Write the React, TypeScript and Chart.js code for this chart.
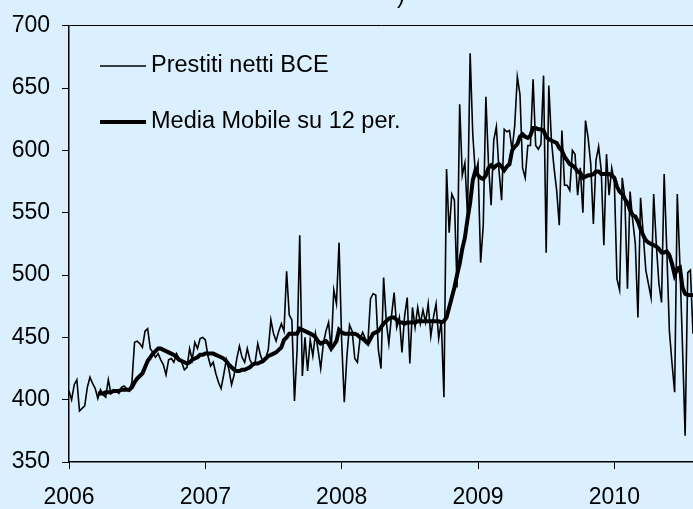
import React, { useEffect, useRef } from "react";
import { Chart, registerables } from "chart.js";

Chart.register(...registerables);

// Year tick labels and the week index where each year starts
const yearLabels = ["2006", "2007", "2008", "2009", "2010"];
const yearTickWeeks = [0, 52, 104, 156, 208];

// Series names
const legendLabels = ["Prestiti netti BCE", "Media Mobile su 12 per."];

// Weekly net ECB lending (week 0 = first week of 2006)
const prestiti = [
  407, 400, 412, 416, 391, 393, 395, 410, 418, 413,
  409, 401, 408, 404, 402, 416, 405, 408, 407, 405,
  410, 411, 409, 407, 414, 446, 447, 445, 442, 455,
  457, 441, 438, 434, 437, 432, 428, 420, 432, 433,
  430, 437, 433, 430, 424, 426, 441, 432, 446, 441,
  449, 450, 448, 435, 427, 430, 421, 414, 409, 420,
  432, 424, 412, 420, 433, 443, 434, 430, 441, 432,
  428, 430, 445, 436, 430, 433, 440, 464, 453, 447,
  455, 461, 455, 503, 468, 464, 399, 440, 532, 419,
  450, 423, 448, 435, 453, 440, 425, 445, 455, 462,
  440, 488, 477, 526, 447, 398, 435, 460, 455, 433,
  430, 449, 454, 449, 446, 481, 485, 484, 440, 425,
  498, 463, 445, 467, 486, 458, 466, 438, 467, 482,
  429, 474, 458, 474, 461, 472, 462, 477, 451, 466,
  477, 449, 463, 402, 585, 534, 565, 560, 490, 637,
  580, 590, 548, 678, 613, 581, 590, 510, 540, 643,
  589, 556, 608, 619, 584, 560, 617, 615, 616, 600,
  620, 659, 645, 586, 578, 604, 604, 657, 604, 601,
  605, 660, 518, 652, 608, 586, 568, 540, 616, 572,
  572, 568, 600, 597, 564, 586, 550, 624, 610, 589,
  541, 592, 603, 584, 524, 597, 564, 586, 575, 497,
  488, 578, 562, 489, 567, 544, 525, 466, 562, 533,
  504, 493, 482, 565, 525, 493, 478, 581, 520, 455,
  429, 406, 565, 509, 442, 371, 502, 504, 453,
];

// 12-period moving average, starting at week 11
const mediaStart = 11;
const mediaMobile = [
  405, 405, 405, 406, 406, 406, 407, 407, 407,
  408, 408, 408, 408, 410, 414, 417, 419, 421, 426,
  431, 434, 437, 439, 441, 441, 440, 439, 438, 437,
  436, 434, 432, 431, 430, 429, 430, 432, 433, 434,
  436, 436, 437, 437, 437, 437, 436, 435, 434, 433,
  431, 428, 426, 424, 423, 423, 424, 424, 425, 426,
  428, 429, 429, 430, 431, 433, 435, 436, 437, 438,
  440, 442, 448, 450, 453, 453, 453, 453, 457, 456,
  455, 454, 453, 452, 450, 447, 445, 446, 447, 445,
  441, 444, 447, 456, 454, 453, 453, 453, 453, 453,
  452, 450, 449, 447, 445, 449, 453, 454, 455, 458,
  461, 463, 465, 466, 466, 464, 462, 462, 461, 462,
  462, 462, 462, 463, 463, 463, 463, 463, 463, 463,
  463, 463, 462, 463, 466, 474, 482, 490, 500, 509,
  521, 530, 545, 558, 576, 584, 580, 578, 577, 580,
  586, 588, 586, 588, 589, 587, 584, 587, 589, 600,
  603, 605, 611, 613, 611, 610, 612, 618, 618, 617,
  617, 616, 611, 609, 608, 607, 606, 602, 600, 595,
  592, 589, 588, 586, 583, 582, 578, 579, 580, 580,
  581, 583, 583, 581, 581, 581, 581, 580, 578, 571,
  567, 565, 561, 558, 552, 548, 547, 543, 537, 532,
  528, 526, 525, 524, 523, 521, 518, 518, 519, 516,
  509, 500, 505, 506, 490, 485, 484, 484, 484,
];

const FONT = "'Liberation Sans', Arial, sans-serif";

const overlayPlugin = {
  id: "overlay",
  afterDraw(chart: any) {
    const ctx = chart.ctx;
    ctx.save();
    ctx.fillStyle = "#000";
    ctx.strokeStyle = "#000";
    ctx.font = `23.5px ${FONT}`;
    // clipped title remnant
    ctx.textAlign = "left";
    ctx.textBaseline = "alphabetic";
    ctx.fillText(")", 397, 3);
    // legend
    const rows = [
      { y: 66, w: 1.5 },
      { y: 122, w: 4 },
    ];
    rows.forEach((r, i) => {
      ctx.lineWidth = r.w;
      ctx.beginPath();
      ctx.moveTo(100, r.y);
      ctx.lineTo(146, r.y);
      ctx.stroke();
      ctx.textBaseline = "alphabetic";
      ctx.fillText(legendLabels[i], 151, r.y + 6);
    });
    ctx.restore();
  },
};

export default function App() {
  const canvasRef = useRef<HTMLCanvasElement | null>(null);

  useEffect(() => {
    document.body.style.margin = "0";
    const canvas = canvasRef.current;
    if (!canvas) return;
    const chart = new Chart(canvas, {
      type: "line",
      data: {
        datasets: [
          {
            label: legendLabels[1],
            data: mediaMobile.map((v, i) => ({ x: mediaStart + i, y: v })),
            borderColor: "#000",
            borderWidth: 4,
            pointRadius: 0,
            tension: 0,
            fill: false,
            order: 0,
          },
          {
            label: legendLabels[0],
            data: prestiti.map((v, i) => ({ x: i, y: v })),
            borderColor: "#000",
            borderWidth: 1.6,
            pointRadius: 0,
            tension: 0,
            fill: false,
            order: 1,
          },
        ],
      },
      options: {
        animation: false,
        responsive: false,
        devicePixelRatio: 1,
        layout: { padding: { top: 25, left: 0, right: 0, bottom: 0 } },
        plugins: {
          legend: { display: false },
          tooltip: { enabled: false },
          title: { display: false },
        },
        scales: {
          x: {
            type: "linear",
            min: 0,
            max: 238,
            afterBuildTicks: (scale: any) => {
              scale.ticks = yearTickWeeks.map((v) => ({ value: v }));
            },
            afterFit: (scale: any) => {
              scale.height = 47;
            },
            ticks: {
              autoSkip: false,
              maxRotation: 0,
              padding: 15,
              color: "#000",
              font: { family: FONT, size: 23 },
              callback: (v: any) => {
                const idx = yearTickWeeks.indexOf(Number(v));
                return idx >= 0 ? yearLabels[idx] : "";
              },
            },
            grid: {
              color: "rgba(0,0,0,0)",
              drawTicks: true,
              tickColor: "#000",
              tickLength: 7,
              tickWidth: 1,
            },
            border: { display: true, color: "#000", width: 1.5 },
          },
          y: {
            type: "linear",
            min: 350,
            max: 700,
            afterFit: (scale: any) => {
              scale.width = 69;
            },
            ticks: {
              stepSize: 50,
              padding: 12,
              color: "#000",
              font: { family: FONT, size: 23 },
            },
            grid: {
              color: (c: any) =>
                c.tick && c.tick.value === 700 ? "#000" : "rgba(0,0,0,0)",
              lineWidth: 1,
              drawTicks: true,
              tickColor: "#000",
              tickLength: 7,
              tickWidth: 1,
            },
            border: { display: true, color: "#000", width: 1.5 },
          },
        },
      },
      plugins: [overlayPlugin],
    });
    return () => chart.destroy();
  }, []);

  return (
    <div
      style={{
        position: "absolute",
        left: 0,
        top: 0,
        width: 693,
        height: 509,
        background: "#DAF0FF",
      }}
    >
      <canvas ref={canvasRef} width={693} height={509} />
    </div>
  );
}
